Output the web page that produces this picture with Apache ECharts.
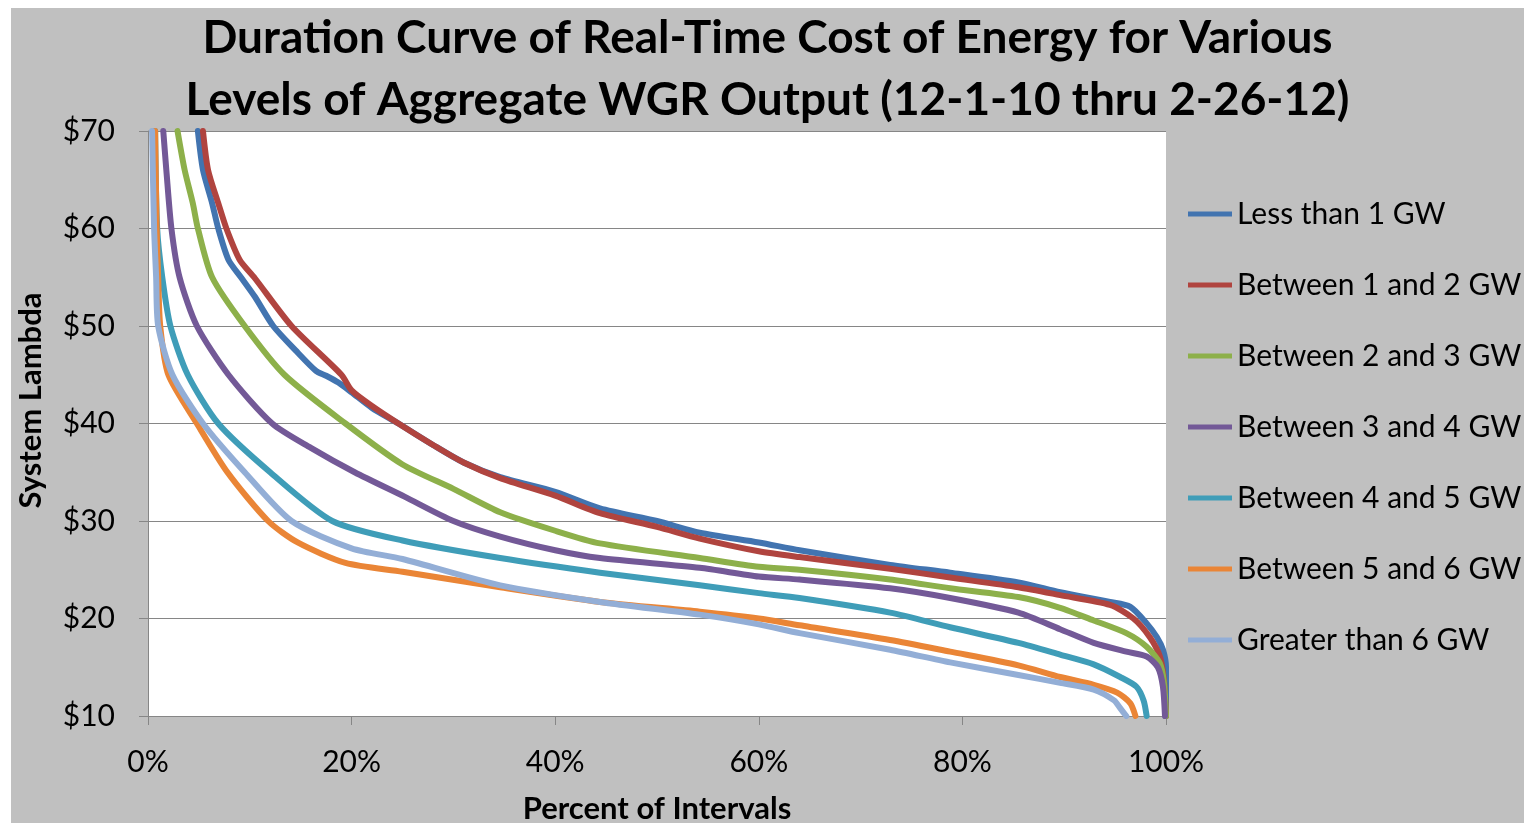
<!DOCTYPE html>
<html>
<head>
<meta charset="utf-8">
<script src="https://cdn.jsdelivr.net/npm/echarts@6/dist/echarts.min.js"></script>
<style>
html,body{margin:0;padding:0;background:#ffffff;width:1524px;height:823px;overflow:hidden;}
#chart{position:absolute;left:11px;top:8px;width:1513px;height:815px;}
</style>
</head>
<body>
<div id="chart"></div>
<script>
// ---- data (x = percent of intervals, y = system lambda $) ----
const seriesNames = ['Less than 1 GW','Between 1 and 2 GW','Between 2 and 3 GW','Between 3 and 4 GW','Between 4 and 5 GW','Between 5 and 6 GW','Greater than 6 GW'];
const xTickLabels = ['0%','20%','40%','60%','80%','100%'];
const yTickLabels = ['$10','$20','$30','$40','$50','$60','$70'];

const lessThan1 = [[4.9,70],[5.4,66],[6.3,62.6],[6.9,60],[7.9,56.8],[9.2,54.9],[10.5,53],[12.3,50],[14.5,47.5],[16.5,45.4],[17.5,44.9],[18.7,44.2],[20,43.2],[22,41.6],[24.6,40],[28,37.8],[31,36],[34.6,34.5],[40,33],[44.4,31.3],[50,30],[54.2,28.8],[60,27.8],[64,27.0],[72.9,25.5],[78.8,24.7],[85.5,23.7],[89.6,22.7],[94.5,21.7],[96.5,21.2],[98.1,19.5],[99.1,18.1],[99.7,16.8],[100,15],[100,10]];
const between1and2 = [[5.4,70],[5.9,66],[6.9,62.6],[7.7,60],[9.0,56.8],[10.5,54.9],[14.1,50],[19.0,45],[20,43.4],[22,41.8],[24.6,40],[28,37.8],[31,36],[34.6,34.4],[40,32.6],[44.4,30.8],[50,29.4],[54.2,28.2],[60,26.9],[64,26.3],[72.9,25.1],[78.8,24.2],[85.5,23.2],[89.6,22.4],[94.5,21.4],[96.8,20.0],[98.4,18.1],[99.4,16.1],[99.8,13.7],[100,10]];
const between2and3 = [[2.9,70],[3.6,66],[4.4,62.6],[4.9,60],[6.3,55],[9.5,50],[13.4,45],[19.4,40],[25,35.8],[30,33.3],[34.6,30.9],[40,29],[44.4,27.7],[54.2,26.2],[60,25.3],[64,25.0],[72.9,24.0],[78.8,23.1],[85.5,22.2],[89.6,21.1],[92.9,19.8],[96.1,18.5],[98.1,17.1],[99.4,15.4],[99.8,13.4],[100,10]];
const between3and4 = [[1.5,70],[1.8,66],[2.3,60],[3.1,55],[4.8,50],[7.9,45],[12.2,40],[16,37.5],[20.3,35],[25.2,32.5],[30,30],[34.6,28.4],[40,27.0],[44.4,26.2],[54.2,25.2],[60,24.3],[64,24.0],[72.9,23.1],[78.8,22.1],[85.5,20.6],[89.6,18.9],[92.9,17.5],[96.1,16.6],[98.1,16.1],[99.2,15.0],[99.7,13.0],[99.9,10]];
const between4and5 = [[0.7,70],[0.9,60],[1.4,55],[2.2,50],[3.9,45],[6.9,40],[12,35],[18.1,30],[25,28],[34.6,26.2],[44.4,24.7],[54.2,23.4],[60,22.6],[64,22.1],[72.9,20.6],[78.8,19.1],[85.5,17.5],[89.6,16.3],[92.9,15.3],[95.5,14.0],[97.1,13.0],[97.8,11.6],[98.1,10]];
const between5and6 = [[0.7,70],[0.85,60],[1.0,55],[1.2,50],[2.0,45],[4.8,40],[7.8,35],[11.8,30],[14.7,27.8],[19.4,25.7],[25,24.8],[34.6,23.2],[44.4,21.7],[54.2,20.7],[60,20.0],[64,19.3],[72.9,17.8],[78.8,16.6],[85.5,15.2],[89.6,14.0],[92.9,13.2],[95.2,12.4],[96.5,11.3],[97.0,10]];
const greaterThan6 = [[0.4,70],[0.6,60],[0.8,55],[1.0,50],[2.4,45],[5.4,40],[9.5,35],[14.1,30],[20,27.2],[25,26.1],[34.6,23.4],[44.4,21.7],[54.2,20.4],[60,19.4],[64,18.5],[72.9,16.8],[78.8,15.5],[85.5,14.2],[89.6,13.4],[92.9,12.7],[94.9,11.6],[95.5,10.8],[96.1,10]];

const allData = [lessThan1, between1and2, between2and3, between3and4, between4and5, between5and6, greaterThan6];
const colors = ['#4274B0','#B0443F','#8DB04A','#735997','#3F9DB8','#EA8536','#93AED6'];

const chart = echarts.init(document.getElementById('chart'), null, {renderer:'canvas'});
const FONT = 'Lato';
chart.setOption({
  backgroundColor: '#C0C0C0',
  animation: false,
  color: colors,
  title: {
    text: 'Duration Curve of Real-Time Cost of Energy for Various\nLevels of Aggregate WGR Output (12-1-10 thru 2-26-12)',
    left: 'center',
    top: -6,
    textStyle: {fontFamily: FONT, fontWeight: 'bold', fontSize: 46, lineHeight: 62, color: '#000'}
  },
  legend: {
    orient: 'vertical',
    left: 1177,
    top: 191,
    padding: 0,
    itemWidth: 44,
    itemHeight: 30,
    itemGap: 41,
    icon: 'path://M0,0 M0,12.5 L44,12.5 L44,17.5 L0,17.5 Z M44,30',
    textStyle: {fontFamily: FONT, fontSize: 30, color: '#000'},
    data: seriesNames
  },
  grid: {left: 137, top: 123, right: 358, bottom: 107, show: true, backgroundColor: '#ffffff', borderWidth: 0, outerBoundsMode: 'none', containLabel: false},
  xAxis: {
    type: 'value', min: 0, max: 100, interval: 20,
    name: 'Percent of Intervals', nameLocation: 'middle', nameGap: 77,
    nameTextStyle: {fontFamily: FONT, fontWeight: 'bold', fontSize: 31, color: '#000'},
    axisLine: {show: true, lineStyle: {color: '#868686', width: 1}},
    axisTick: {show: true, length: 9, lineStyle: {color: '#868686'}},
    axisLabel: {fontFamily: FONT, fontSize: 30, color: '#000', margin: 31,
      formatter: v => xTickLabels[Math.round(v/20)]},
    splitLine: {show: false}
  },
  yAxis: {
    type: 'value', min: 10, max: 70, interval: 10,
    name: 'System Lambda', nameLocation: 'middle', nameGap: 102,
    nameTextStyle: {fontFamily: FONT, fontWeight: 'bold', fontSize: 31, color: '#000', padding: [0,0,0,46]},
    axisLine: {show: true, lineStyle: {color: '#868686', width: 1}},
    axisTick: {show: true, length: 9, lineStyle: {color: '#868686'}},
    axisLabel: {fontFamily: FONT, fontSize: 30, color: '#000', margin: 33,
      formatter: v => yTickLabels[Math.round((v-10)/10)]},
    splitLine: {show: true, lineStyle: {color: '#868686', width: 1}}
  },
  series: allData.map((d, i) => ({
    name: seriesNames[i],
    type: 'line',
    data: d,
    symbol: 'none',
    smooth: 0.25,
    clip: true,
    lineStyle: {width: 6, color: colors[i], cap: 'round', join: 'round'},
    itemStyle: {color: colors[i]}
  }))
});
</script>
</body>
</html>
